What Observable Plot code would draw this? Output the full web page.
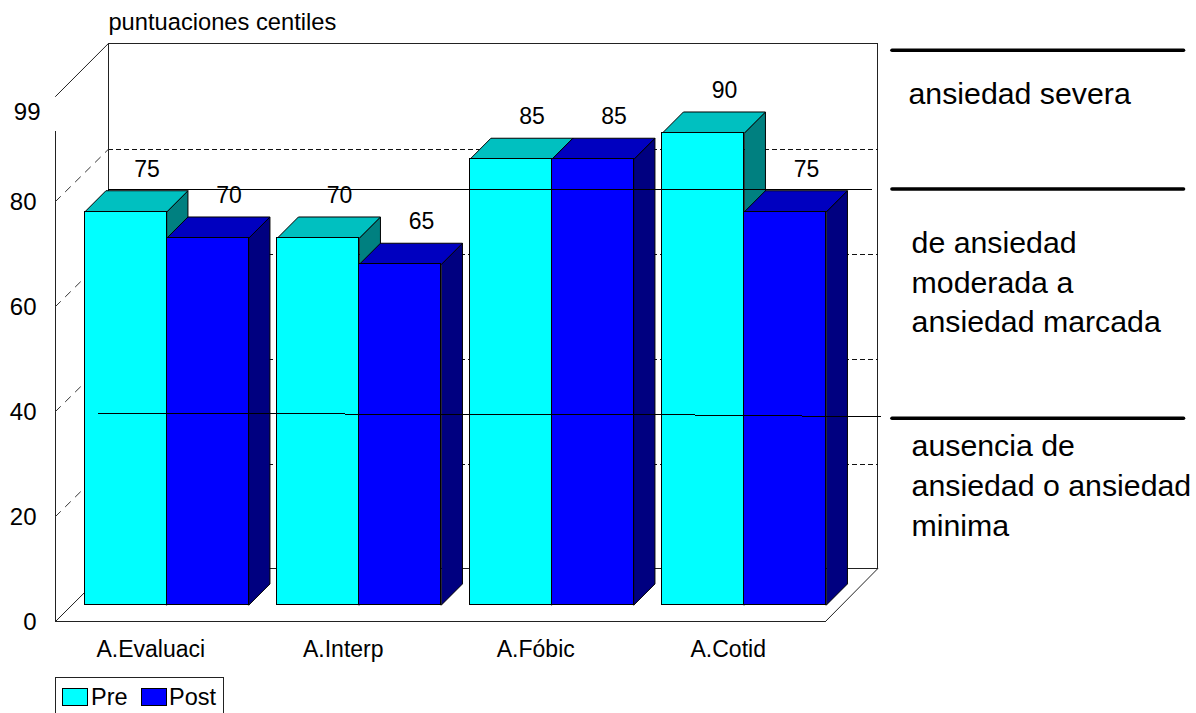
<!DOCTYPE html>
<html><head><meta charset="utf-8">
<script src="https://cdn.jsdelivr.net/npm/d3@7"></script>
<script src="https://cdn.jsdelivr.net/npm/@observablehq/plot@0.6"></script>
<style>html,body{margin:0;padding:0;background:#fff;overflow:hidden}svg{display:block}</style>
</head><body><div id="chart"></div>
<script>
const categories = ["A.Evaluaci", "A.Interp", "A.Fóbic", "A.Cotid"];
const series = ["Pre", "Post"];
const pre = [75, 70, 85, 90];
const post = [70, 65, 85, 75];
const yTicks = [0, 20, 40, 60, 80];
const topTick = 99;
const bandLevels = [108.8, 82.4, 38.7];
const bandNotes = ["ansiedad severa"];
const midNotes = ["de ansiedad", "moderada a", "ansiedad marcada"];
const lowNotes = ["ausencia de", "ansiedad o ansiedad", "minima"];

// layout, in scale units
const FONT = "'Liberation Sans', Arial, sans-serif";
const backX = 0.275, backXr = 0.271, backY = 10.05;  // depth of the chart box
const barX = 0.109, barY = 4.0;                      // depth of one bar
const base = 3.15, lift = 3.05;                      // bars stand in the middle of the floor
const gap = 0.153, barW = 0.426;
const yMax = 100, xMax = 4;
const wallTop = yMax + backY + 0.05;

const colours = {
  Pre:  {front: "#00ffff", topFace: "#00c0c0", side: "#008080"},
  Post: {front: "#0000ff", topFace: "#0000c0", side: "#000080"}
};

const bars = categories.flatMap((c, i) => [pre[i], post[i]].map((v, k) => ({
  category: c, series: series[k], value: v,
  x1: i + gap + k * barW, x2: i + gap + (k + 1) * barW,
  y1: base, y2: lift + v
})));

const faces = bars.flatMap((b, n) => [
  {id: n + "s", fill: colours[b.series].side, pts: [[b.x2, b.y1], [b.x2 + barX, b.y1 + barY], [b.x2 + barX, b.y2 + barY], [b.x2, b.y2]]},
  {id: n + "t", fill: colours[b.series].topFace, pts: [[b.x1, b.y2], [b.x1 + barX, b.y2 + barY], [b.x2 + barX, b.y2 + barY], [b.x2, b.y2]]}
]).flatMap(f => f.pts.map(([x, y]) => ({id: f.id, fill: f.fill, x, y})));

const seg = (id, ...pts) => pts.map(([x, y]) => ({id, x, y}));
const frame = [
  ...seg("leftAxis", [0, 93.4], [0, 0], [xMax, 0]),
  ...seg("floorBack", [backX, backY], [xMax + backXr, backY]),
  ...seg("wall", [backX, backY], [backX, wallTop], [xMax + backXr, wallTop], [xMax + backXr, backY])
];
const diagonals = [
  ...seg("rightDiag", [xMax, 0], [xMax + backXr, backY]),
  ...seg("topDiag", [0, yMax], [backX, wallTop]),
  ...seg("floorDiag", [0, 0], [backX, backY])
];
const dashedWall = yTicks.filter(v => v > 0).flatMap(v => seg("w" + v, [backX, v + backY - 0.1], [xMax + backXr, v + backY - 0.1]));
const dashedDiag = yTicks.filter(v => v > 0).flatMap(v => seg("d" + v, [0, v], [backX, v + backY - 0.1]));

const upperLine = seg("upper", [backX, bandLevels[1] - 0.2], [4.238, bandLevels[1] - 0.2]);
const lowerLine = seg("lower", [0.223, 39.7], [1.23, 39.55], [3.27, 39.35], [4.286, 39.0]);
const thick = bandLevels.flatMap((v, i) => seg("t" + i, [4.345, v], [5.86, v]));

const notes = [
  ...bandNotes.map((t, i) => ({t, x: 4.431, y: 100.5})),
  ...midNotes.map((t, i) => ({t, x: 4.447, y: 72 - i * 7.55})),
  ...lowNotes.map((t, i) => ({t, x: 4.447, y: 33.3 - i * 7.6}))
];
const legendBox = seg("legend", [0, -20], [0, -10.7], [0.875, -10.7], [0.875, -20]);
const legendKeys = series.map((s, i) => ({s, x1: 0.04 + i * 0.41, x2: 0.17 + i * 0.41, y1: -16, y2: -12.95, fill: colours[s].front, tx: 0.185 + i * 0.405}));

const crisp = {shapeRendering: "crispEdges"};
const plot = Plot.plot({
  width: 1196, height: 713,
  marginTop: 0, marginRight: 0, marginBottom: 0, marginLeft: 0,
  x: {type: "linear", domain: [0, xMax], range: [55, 825], axis: null},
  y: {type: "linear", domain: [0, yMax], range: [621, 96], axis: null},
  color: {type: "identity"},
  style: {background: "#fff", fontFamily: FONT},
  marks: [
    Plot.line(frame, {x: "x", y: "y", z: "id", stroke: "#222", strokeWidth: 1, ...crisp}),
    Plot.line(diagonals, {x: "x", y: "y", z: "id", stroke: "#222", strokeWidth: 1}),
    Plot.line(dashedWall, {x: "x", y: "y", z: "id", stroke: "#111", strokeWidth: 1, strokeDasharray: "4,4", ...crisp}),
    Plot.line(dashedDiag, {x: "x", y: "y", z: "id", stroke: "#333", strokeWidth: 1, strokeDasharray: "7,7"}),
    Plot.line(faces, {x: "x", y: "y", z: "id", fill: "fill", stroke: "#000", strokeWidth: 1, curve: "linear-closed"}),
    Plot.rect(bars, {x1: "x1", x2: "x2", y1: "y1", y2: "y2", fill: d => colours[d.series].front, stroke: "#000", strokeWidth: 1, ...crisp}),
    Plot.line(upperLine, {x: "x", y: "y", z: "id", stroke: "#000", strokeWidth: 1, ...crisp}),
    Plot.line(lowerLine, {x: "x", y: "y", z: "id", stroke: "#000", strokeWidth: 1, ...crisp}),
    Plot.line(thick, {x: "x", y: "y", z: "id", stroke: "#000", strokeWidth: 3.5}),
    Plot.text(bars, {x: d => (d.x1 + d.x2) / 2 + barX, y: d => d.y2 + barY, text: d => String(d.value), dy: -21.5, fontSize: 23, fill: "#000", lineAnchor: "middle", textAnchor: "middle"}),
    Plot.text(yTicks, {x: () => -0.0987, y: d => d, text: d => String(d), dy: 1, textAnchor: "end", lineAnchor: "middle", fontSize: 24, fill: "#000"}),
    Plot.text([topTick], {x: () => -0.078, y: d => d, text: d => String(d), dy: 11, textAnchor: "end", lineAnchor: "middle", fontSize: 24, fill: "#000"}),
    Plot.text(categories, {x: (d, i) => i + 0.5, y: () => -5.33, text: d => d, dx: -1, textAnchor: "middle", lineAnchor: "middle", fontSize: 23, fill: "#000"}),
    Plot.text(["puntuaciones centiles"], {x: () => backX, y: () => 114.2, text: d => d, textAnchor: "start", lineAnchor: "middle", fontSize: 23.7, fill: "#000"}),
    Plot.text(notes, {x: "x", y: "y", text: "t", textAnchor: "start", lineAnchor: "middle", fontSize: 30.3, fill: "#000"}),
    Plot.line(legendBox, {x: "x", y: "y", z: "id", stroke: "#222", strokeWidth: 1, ...crisp}),
    Plot.rect(legendKeys, {x1: "x1", x2: "x2", y1: "y1", y2: "y2", fill: "fill", stroke: "#000", strokeWidth: 1, ...crisp}),
    Plot.text(legendKeys, {x: "tx", y: () => -14.4, text: "s", textAnchor: "start", lineAnchor: "middle", fontSize: 23.5, fill: "#000"})
  ]
});
document.getElementById("chart").append(plot);
</script></body></html>
